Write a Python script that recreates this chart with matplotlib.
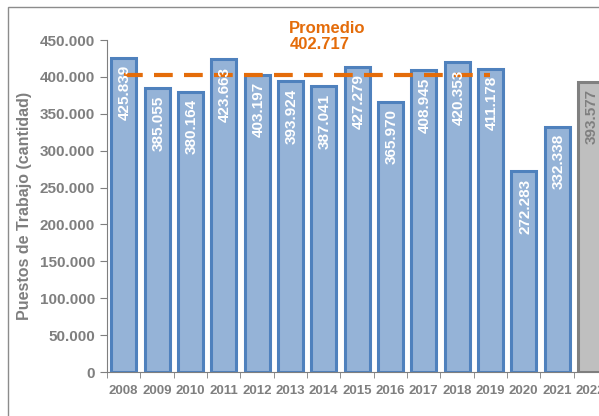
import matplotlib
matplotlib.use("Agg")
import matplotlib.pyplot as plt
from matplotlib.patches import Rectangle

plt.rcParams["font.family"] = ["Liberation Sans", "DejaVu Sans"]

# datos
years = ["2008", "2009", "2010", "2011", "2012", "2013", "2014", "2015",
         "2016", "2017", "2018", "2019", "2020", "2021", "2022"]
heights = [425839, 385055, 380164, 423663, 403197, 393924, 387041, 414000,
           365970, 408945, 420353, 411178, 272283, 332338, 393577]
labels = ["425.839", "385.055", "380.164", "423.663", "403.197", "393.924",
          "387.041", "427.279", "365.970", "408.945", "420.353", "411.178",
          "272.283", "332.338", "393.577"]
promedio = 402717
promedio_txt = "Promedio\n402.717"
yticks = [0, 50000, 100000, 150000, 200000, 250000, 300000, 350000, 400000, 450000]
ytick_labels = ["0", "50.000", "100.000", "150.000", "200.000", "250.000",
                "300.000", "350.000", "400.000", "450.000"]

gray = "#7f7f7f"
fig = plt.figure(figsize=(5.99, 4.16), dpi=100)
ax = fig.add_axes([107 / 599, 44 / 416, 500 / 599, 332 / 416])

x = list(range(len(years)))
fills = ["#95b3d7"] * 14 + ["#bfbfbf"]
edges = ["#4f81bd"] * 14 + ["#808080"]
ax.bar(x, heights, width=0.75, color=fills, edgecolor=edges, linewidth=2.2, zorder=2)

# etiquetas dentro de las barras
for i, (h, t) in enumerate(zip(heights, labels)):
    col = "white" if i < 14 else gray
    ax.text(i + 0.04, h - 10000, t, rotation=90, ha="center", va="top",
            color=col, fontsize=11, fontweight="bold", zorder=4)

# linea de promedio 2008-2019
ax.plot([0, 11], [promedio, promedio], color="#e46c0a", linewidth=3,
        dashes=(4.5, 2.7), zorder=3)
ax.text(4.97, 434000, promedio_txt, color="#e46c0a", fontsize=12,
        fontweight="bold", ha="left", va="bottom", linespacing=1.1)

ax.set_xlim(-0.5, 14.5)
ax.set_ylim(0, 450000)
ax.set_yticks(yticks)
ax.set_yticklabels(ytick_labels)
ax.set_xticks(x)
ax.set_xticklabels(years)
ax.set_xticks([i - 0.5 for i in range(16)], minor=True)
ax.tick_params(axis="x", which="major", length=0, pad=9, labelsize=9.5,
               labelcolor=gray)
ax.tick_params(axis="x", which="minor", length=4, color=gray)
ax.tick_params(axis="y", length=5, color=gray, labelsize=11, labelcolor=gray)
for lab in ax.get_xticklabels() + ax.get_yticklabels():
    lab.set_fontweight("bold")

ax.spines["top"].set_visible(False)
ax.spines["right"].set_visible(False)
ax.spines["left"].set_color(gray)
ax.spines["bottom"].set_color(gray)
ax.set_ylabel("Puestos de Trabajo (cantidad)", color=gray, fontsize=11.5,
              fontweight="bold", labelpad=6)

# marco exterior
fig.patches.append(Rectangle((8 / 599, -0.1), 1.2, 1.1 - 7 / 416,
                             transform=fig.transFigure, fill=False,
                             edgecolor="#8c8c8c", linewidth=1))

fig.savefig("out.png", dpi=100)
